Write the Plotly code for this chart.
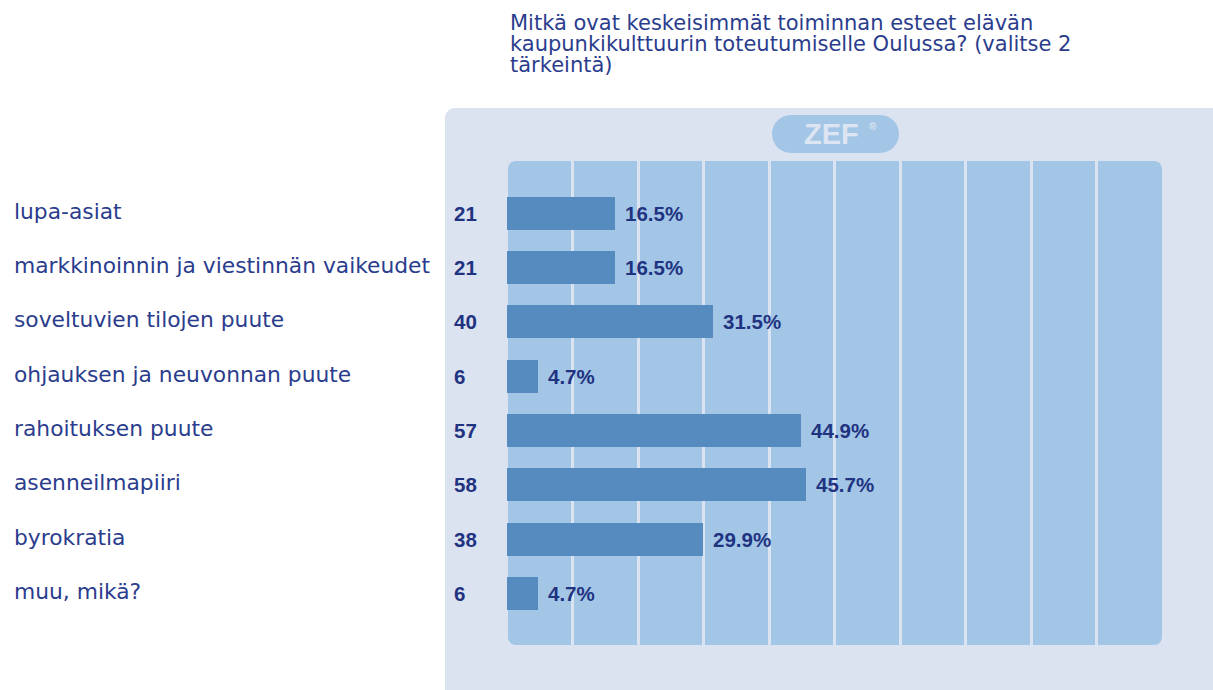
import plotly.graph_objects as go

# ---- data ----
title_lines = [
    "Mitkä ovat keskeisimmät toiminnan esteet elävän",
    "kaupunkikulttuurin toteutumiselle Oulussa? (valitse 2",
    "tärkeintä)",
]
categories = [
    "lupa-asiat",
    "markkinoinnin ja viestinnän vaikeudet",
    "soveltuvien tilojen puute",
    "ohjauksen ja neuvonnan puute",
    "rahoituksen puute",
    "asenneilmapiiri",
    "byrokratia",
    "muu, mikä?",
]
counts = [21, 21, 40, 6, 57, 58, 38, 6]
percents = [16.5, 16.5, 31.5, 4.7, 44.9, 45.7, 29.9, 4.7]
grid_ticks = [10, 20, 30, 40, 50, 60, 70, 80, 90]

# ---- layout geometry (pixels) ----
FW, FH = 1213, 690
ML, MR, MT, MB = 507, 51, 161, 45
PW = FW - ML - MR
PH = FH - MT - MB
PB = FH - MB  # plot bottom pixel

PANEL = "#dbe2f0"
INNER = "#a3c6e7"
BAR = "#558bbe"
TXT = "#2b3d8d"
NUM = "#1f3381"


def px(x):
    return (x - ML) / PW


def py(y):
    return (PB - y) / PH


def rrect(x0, y0, x1, y1, r):
    k = 0.5523 * r

    def P(x, y):
        return f"{px(x):.5f},{py(y):.5f}"
    d = f"M {P(x0 + r, y0)} L {P(x1 - r, y0)} "
    d += f"C {P(x1 - r + k, y0)} {P(x1, y0 + r - k)} {P(x1, y0 + r)} "
    d += f"L {P(x1, y1 - r)} "
    d += f"C {P(x1, y1 - r + k)} {P(x1 - r + k, y1)} {P(x1 - r, y1)} "
    d += f"L {P(x0 + r, y1)} "
    d += f"C {P(x0 + r - k, y1)} {P(x0, y1 - r + k)} {P(x0, y1 - r)} "
    d += f"L {P(x0, y0 + r)} "
    d += f"C {P(x0, y0 + r - k)} {P(x0 + r - k, y0)} {P(x0 + r, y0)} Z"
    return d


fig = go.Figure()
fig.add_trace(go.Bar(
    y=categories,
    x=percents,
    orientation="h",
    width=0.607,
    marker=dict(color=BAR, line=dict(width=0)),
    hoverinfo="skip",
))

shapes = [
    dict(type="path", xref="paper", yref="paper", layer="below",
         path=rrect(445, 108, 1260, 740, 10),
         fillcolor=PANEL, line=dict(width=0)),
    dict(type="path", xref="paper", yref="paper", layer="below",
         path=rrect(508, 161, 1162, 645, 8),
         fillcolor=INNER, line=dict(width=0)),
    dict(type="path", xref="paper", yref="paper", layer="below",
         path=rrect(772, 115, 899, 153, 19),
         fillcolor=INNER, line=dict(width=0)),
]

annotations = []
title_centers = [22.7, 43.7, 64.7]
for line, yc in zip(title_lines, title_centers):
    annotations.append(dict(
        text=line, xref="paper", yref="paper", x=px(508), y=py(yc),
        xanchor="left", yanchor="middle", showarrow=False,
        font=dict(family="DejaVu Sans", size=21, color=TXT)))

for cat, n, p in zip(categories, counts, percents):
    annotations.append(dict(
        text=cat, xref="paper", yref="y", x=px(12), y=cat,
        xanchor="left", yanchor="middle", showarrow=False, yshift=2,
        font=dict(family="DejaVu Sans", size=21.8, color=TXT)))
    annotations.append(dict(
        text=str(n), xref="paper", yref="y", x=px(452), y=cat,
        xanchor="left", yanchor="middle", showarrow=False,
        font=dict(family="Liberation Sans", size=20.5, color=NUM, weight="bold")))
    annotations.append(dict(
        text=f"{p}%", xref="x", yref="y", x=p, y=cat,
        xanchor="left", yanchor="middle", showarrow=False, xshift=8,
        font=dict(family="Liberation Sans", size=20.5, color=NUM, weight="bold")))

annotations.append(dict(
    text="ZEF", xref="paper", yref="paper", x=px(831), y=py(134),
    xanchor="center", yanchor="middle", showarrow=False,
    font=dict(family="Liberation Sans", size=29, color="#dde4f2", weight="bold")))
annotations.append(dict(
    text="®", xref="paper", yref="paper", x=px(873), y=py(127),
    xanchor="center", yanchor="middle", showarrow=False,
    font=dict(family="Liberation Sans", size=10, color="#dde4f2", weight="bold")))

fig.update_layout(
    width=FW, height=FH,
    margin=dict(l=ML, r=MR, t=MT, b=MB, pad=0),
    paper_bgcolor="white",
    plot_bgcolor="rgba(0,0,0,0)",
    showlegend=False,
    shapes=shapes,
    annotations=annotations,
    bargap=0,
    xaxis=dict(range=[0, 100], tickmode="array", tickvals=grid_ticks,
               showticklabels=False, showgrid=True, gridcolor=PANEL,
               gridwidth=3, zeroline=False, showline=False, ticks="",
               fixedrange=True),
    yaxis=dict(type="category", categoryorder="array", categoryarray=categories,
               range=[7.947, -0.957], showticklabels=False, showgrid=False,
               zeroline=False, showline=False, ticks="", fixedrange=True),
)

fig.write_html(
    "out.html",
    config=dict(displayModeBar=False),
    post_script="document.body.style.margin='0';document.body.style.overflow='hidden';",
)
